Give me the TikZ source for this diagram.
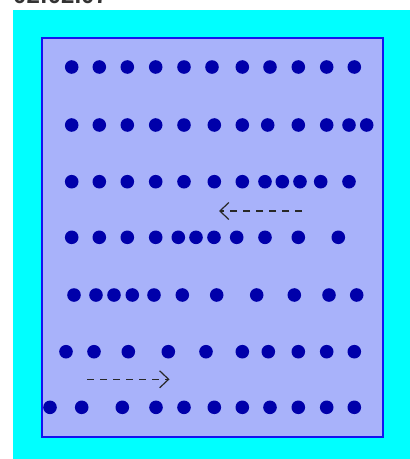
\documentclass[tikz,border=0pt]{standalone}
\usepackage{fontspec}
\setsansfont{Liberation Sans}
\usepackage{tikz}
\usetikzlibrary{arrows.meta}
\definecolor{bgcyan}{RGB}{0,255,255}
\definecolor{panelfill}{RGB}{168,178,250}
\definecolor{panelline}{RGB}{20,20,240}
\definecolor{beadblue}{RGB}{0,0,170}
\definecolor{arrowgray}{RGB}{40,40,40}
\tikzset{
  bead/.style={fill=beadblue},
  flowarrow/.style={draw=arrowgray,line width=1.4pt,dash pattern=on 7pt off 6pt,
    -{Straight Barb[length=9pt,width=17pt,line width=1.2pt]}}
}
\begin{document}
\begin{tikzpicture}[x=1pt,y=-1pt]
  \useasboundingbox (0,0) rectangle (410,459);
  \fill[bgcyan] (13,10) rectangle (410,459);
  % timer, cut off at the top edge
  \node[anchor=base west,inner sep=0pt,text=black!80,
        font=\sffamily\bfseries\fontsize{24}{24}\selectfont] (clock) at (13,3.5) {02:02.07};
  \draw[panelline,fill=panelfill,line width=2pt] (42,38) rectangle (383,437);
  % rows of beads
  \foreach \y/\xs in {
     67/{71.7,99.3,127.3,155.7,184,212,242.3,270,298.3,326.7,354.3},
    125/{71.7,99.3,127.3,155.7,184,214.3,242.3,267.7,298.3,326.7,349,366.7},
    181.7/{71.7,99.3,127.3,155.7,184,214.3,242.3,265,282.3,300,320.7,349},
    237.3/{71.7,99.3,127.3,155.7,178.3,196,214,236.7,265,298.3,338.3},
    295/{74,96,114,132.3,154,182.3,216.7,256.7,294.3,329,356.7},
    351.7/{66,94,128.3,168.3,206,242.3,268.3,298.3,326.7,354.3},
    407.3/{50,81.7,122.3,156,184,214.3,242.3,270,298.3,326.7,354.3}} {
    \foreach \x in \xs
      \fill[bead] (\x,\y) circle (6.8);
  }
  % drift arrows
  \coordinate (leftfrom) at (302,211);
  \coordinate (leftto) at (219,211);
  \coordinate (rightfrom) at (87,379.3);
  \coordinate (rightto) at (169.5,379.3);
  \draw[flowarrow] (leftfrom) -- (leftto);
  \draw[flowarrow] (rightfrom) -- (rightto);
\end{tikzpicture}
\end{document}
